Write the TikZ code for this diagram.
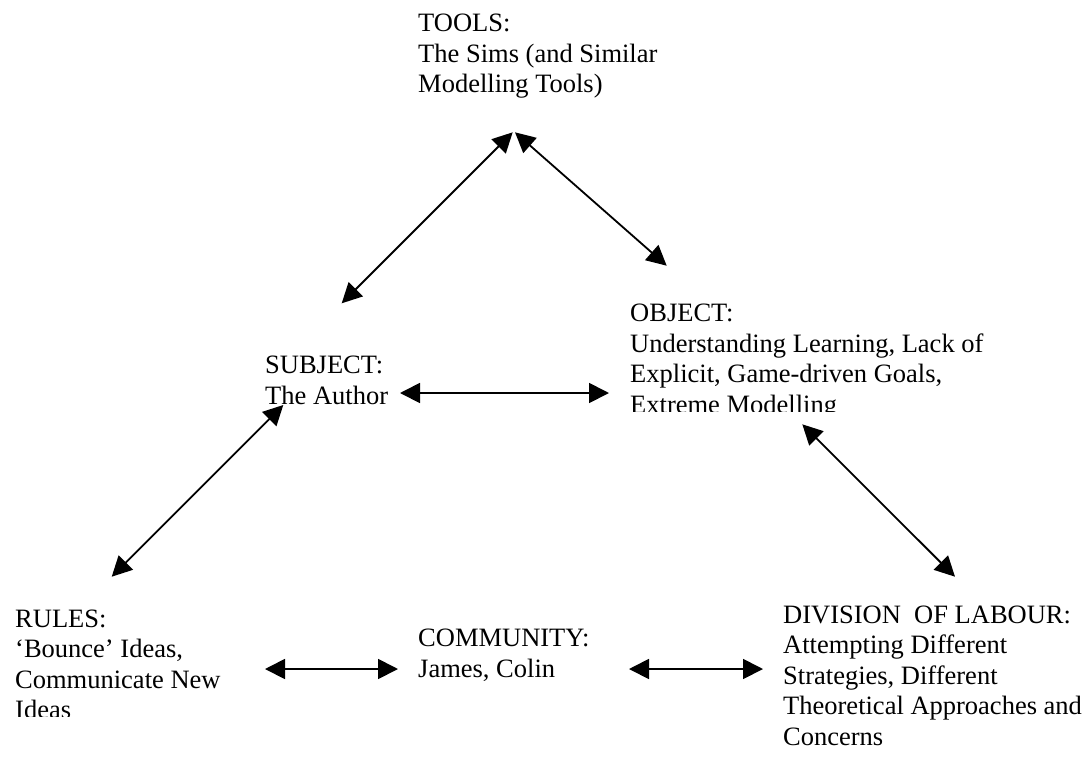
\documentclass[tikz,border=0pt]{standalone}
\usepackage{fontspec}
\setmainfont{Liberation Serif}
\usetikzlibrary{arrows.meta}
\begin{document}
\begin{tikzpicture}[x=1pt,y=-1pt,
  lbl/.style={anchor=base west, inner sep=0pt, align=left, font=\fontsize{26.5}{30.5}\selectfont},
  link/.style={line width=1.8pt, {Triangle[length=20pt,width=20pt]}-{Triangle[length=20pt,width=20pt]}}]
\useasboundingbox (0,0) rectangle (1090,756);
% node positions are the baselines of the last lines
\node[lbl] (tools) at (418,92.5) {TOOLS:\\The Sims (and Similar\\Modelling Tools)};
\node[lbl] (subject) at (265,404) {SUBJECT:\\The Author};
\begin{scope}
\clip (600,280) rectangle (1090,411.5);
\node[lbl] (object) at (630,413) {OBJECT:\\Understanding Learning, Lack of\\Explicit, Game-driven Goals,\\Extreme Modelling};
\end{scope}
\begin{scope}
\clip (0,590) rectangle (260,716.8);
\node[lbl] (rules) at (15,718.5) {RULES:\\‘Bounce’ Ideas,\\Communicate New\\Ideas};
\end{scope}
\node[lbl] (community) at (418,677) {COMMUNITY:\\James, Colin};
\node[lbl] (division) at (783,745) {DIVISION\ \ OF LABOUR:\\Attempting Different\\Strategies, Different\\Theoretical Approaches and\\Concerns};
% connector ends
\coordinate (tsA) at (512.7,132.3);
\coordinate (tsB) at (341.7,303.3);
\coordinate (toA) at (515,132.3);
\coordinate (toB) at (666.7,265.7);
\coordinate (soA) at (400,393);
\coordinate (soB) at (609,393);
\coordinate (srA) at (283.3,405);
\coordinate (srB) at (111.7,576.7);
\coordinate (odA) at (802.3,424.3);
\coordinate (odB) at (955,576.7);
\coordinate (rcA) at (265,669);
\coordinate (rcB) at (398,669);
\coordinate (cdA) at (629,669);
\coordinate (cdB) at (763,669);
\draw[link] (tsA) -- (tsB);
\draw[link] (toA) -- (toB);
\draw[link] (soA) -- (soB);
\draw[link] (srA) -- (srB);
\draw[link] (odA) -- (odB);
\draw[link] (rcA) -- (rcB);
\draw[link] (cdA) -- (cdB);
\end{tikzpicture}
\end{document}
